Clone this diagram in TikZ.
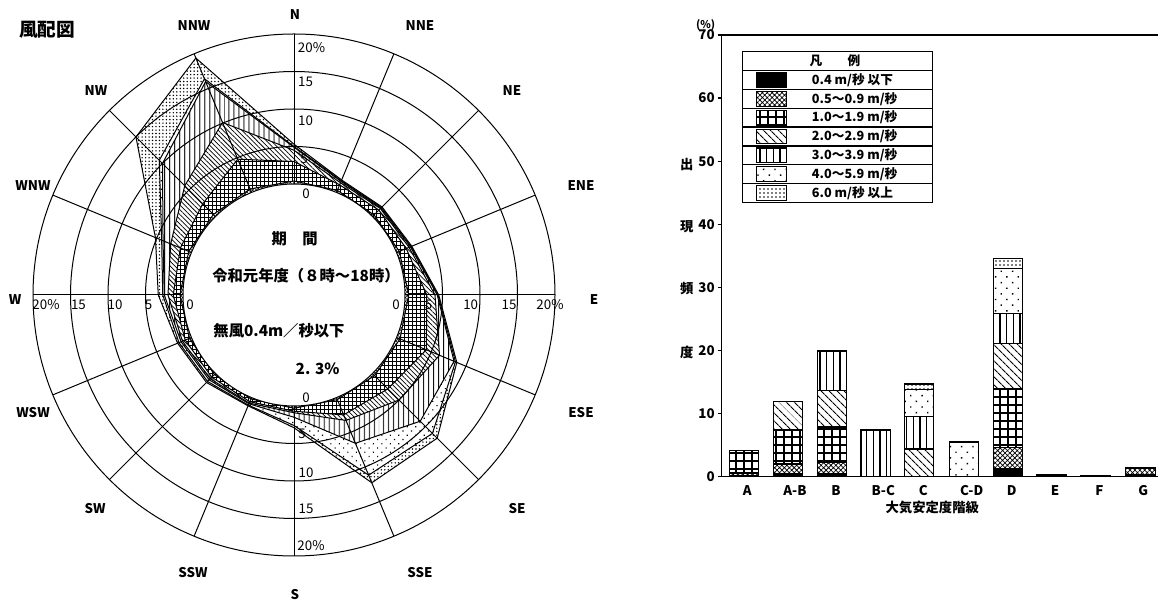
\documentclass[tikz,border=0pt]{standalone}
\usepackage{fontspec}
\setmainfont{Noto Sans CJK JP}
\usetikzlibrary{patterns.meta}

\tikzset{
  every node/.style={inner sep=0pt},
  % speed classes in the rose
  r05/.style={pattern={Hatch[angle=45,distance=2pt,line width=0.4pt]}},
  r10/.style={pattern={Hatch[angle=0,distance=3pt,line width=0.55pt]}},
  r20/.style={pattern={Lines[angle=-45,distance=2.5pt,line width=0.55pt]}},
  r30/.style={pattern={Lines[angle=90,distance=4pt,line width=0.75pt]}},
  r40/.style={pattern={Dots[angle=45,distance=4.5pt,radius=0.6pt]}},
  r60/.style={pattern={Dots[angle=0,distance=2.6pt,radius=0.6pt]}},
  % speed classes in the bars
  b00/.style={fill=black},
  b05/.style={pattern={Hatch[angle=45,distance=2.6pt,line width=0.55pt]}},
  b10/.style={pattern={Hatch[angle=0,distance=6pt,line width=1pt]}},
  b20/.style={pattern={Lines[angle=-45,distance=4pt,line width=0.9pt]}},
  b30/.style={pattern={Lines[angle=90,distance=5pt,line width=1pt]}},
  b40/.style={pattern={Dots[angle=45,distance=6pt,radius=0.75pt]}},
  b60/.style={pattern={Dots[angle=0,distance=3pt,radius=0.65pt]}},
  barline/.style={line width=1pt,preaction={fill=white}},
  dirlbl/.style={font=\fontsize{10}{11}\selectfont\bfseries},
  ringlbl/.style={font=\fontsize{10}{11}\selectfont},
  midtxt/.style={font=\fontsize{11.5}{12}\selectfont\bfseries},
  axlbl/.style={font=\fontsize{10}{11}\selectfont\bfseries},
  keytxt/.style={font=\fontsize{9.5}{10}\selectfont\bfseries}
}

\begin{document}
\begin{tikzpicture}[x=0.75pt,y=-0.75pt]
\useasboundingbox (0,0) rectangle (1158,605);

% wind rose, N NNE NE ... NNW
\begin{scope}[shift={(294,295)},line width=0.75pt]
\foreach \pat/\vN/\vals in {
  r60/5.3/{1.8,1.8,2.2,4.5,8.7,12.2,12.3,2.9,1.2,1.7,2.0,3.3,5.2,15.0,19.4},
  r40/5.0/{1.7,1.7,2.1,4.4,8.5,11.3,11.2,2.6,1.1,1.5,1.8,2.7,4.3,10.6,16.4},
  r30/4.9/{1.6,1.6,2.0,4.3,8.3,9.0,6.6,1.5,0.9,1.2,1.5,2.5,4.1,10.0,16.0},
  r20/4.5/{1.4,1.5,1.8,4.0,6.2,5.0,3.3,0.9,0.8,1.0,1.3,2.0,3.0,5.8,10.1},
  r10/3.0/{1.1,1.2,1.4,2.9,4.3,2.9,2.5,0.7,0.6,0.7,0.9,1.3,1.6,2.4,4.8},
  r05/0.4/{0.3,0.3,0.4,0.5,0.5,0.4,0.3,0.3,0.2,0.2,0.3,0.4,0.4,0.4,0.5}}
  \draw[preaction={fill=white},\pat] (-90:{111+7.5*\vN})
    \foreach \v [count=\i] in \vals {-- ({22.5*\i-90}:{111+7.5*\v})} -- cycle;
\draw[fill=white] (0,0) circle (111);
\foreach \r in {148.5,186,223.5,261}
  \draw (0,0) circle (\r);
\foreach \a in {0,22.5,...,337.5}
  \draw (\a:111) -- (\a:261);
\end{scope}

\node[font=\fontsize{14}{15}\selectfont\bfseries] (title) at (47,30) {風配図};
\foreach \nm/\px/\py in {N/295/15, NNE/420/26, NE/512/91, ENE/581/186,
    E/594/300, ESE/581/413, SE/517/509, SSE/420/573, S/295/595,
    SSW/193/573, SW/95/509, WSW/33/413, W/15/300, WNW/33/186,
    NW/96/91, NNW/194/26}
  \node[dirlbl] (dir\nm) at (\px,\py) {\nm};

% ring values on the four axes
\foreach \t/\px/\py [count=\k] in {20\%/311.5/48, 15/305.5/82, 10/305.5/120.5,
    5/304/159, 0/306/194, 0/306/398, 5/302/434, 10/306/473, 15/306/509,
    20\%/311/546, 0/396/305, 5/428.6/305, 10/470.7/305, 15/509/305,
    20\%/550/305, 20\%/46/305, 15/78.5/305, 10/115/305, 5/148.5/305, 0/190/305}
  \node[ringlbl] (ring\k) at (\px,\py) {\t};

\node[midtxt] (period) at (294.7,239) {期　間};
\node[midtxt] (years) at (306,275.5) {令和元年度（８時～18時）};
\node[midtxt] (calm) at (279,331) {無風0.4m／秒以下};
\node[midtxt] (calmval) at (317.6,368.5) {2. 3\%};

% bar chart
\draw[line width=1pt] (1158,35) -- (721.7,35) -- (721.7,476.7) -- (1158,476.7);
\foreach \p in {0,10,...,70} {
  \draw[line width=1pt] (717.5,{476.7-6.31*\p}) -- (721.7,{476.7-6.31*\p});
  \node[axlbl,anchor=east] (tick\p) at (715,{476.7-6.31*\p}) {\p};
}
\node[font=\fontsize{8}{9}\selectfont\bfseries] (unit) at (705.7,25) {(\%)};
\foreach \ch/\py [count=\k] in {出/164.7, 現/227, 頻/289, 度/352}
  \node[axlbl] (ytitle\k) at (686.7,\py) {\ch};

\foreach \bx/\segs in {
  729.3/{b00/0/0.1,b05/0.1/0.6,b10/0.6/4.1},
  773.3/{b00/0/0.5,b05/0.5/2.0,b10/2.0/7.4,b20/7.4/11.9},
  817.3/{b00/0/0.5,b05/0.5/2.2,b10/2.2/7.9,b20/7.9/13.7,b30/13.7/19.9},
  861.0/{b30/0/7.4},
  904.3/{b20/0/4.4,b30/4.4/9.5,b40/9.5/13.8,b60/13.8/14.7},
  949.3/{b40/0/5.5},
  993.3/{b00/0/1.3,b05/1.3/4.6,b10/4.6/14.0,b20/14.0/21.1,b30/21.1/25.9,b40/25.9/33.0,b60/33.0/34.6},
  1036.7/{b00/0/0.4},
  1081.0/{b00/0/0.2},
  1125.7/{b00/0/0.35,b05/0.35/1.4}}
  \foreach \pat/\lo/\hi in \segs
    \draw[barline,\pat] (\bx,{476.7-6.31*\lo}) rectangle ({\bx+29.5},{476.7-6.31*\hi});

\foreach \cx/\cl [count=\k] in {747.3/A, 795/A-B, 836/B, 883.3/B-C, 923.3/C,
    971.7/C-D, 1011.7/D, 1055/E, 1099.3/F, 1143.3/G}
  \node[axlbl] (cat\k) at (\cx,490.7) {\cl};
\node[axlbl] (xtitle) at (932.3,507.3) {大気安定度階級};

% legend
\draw[line width=1pt] (742.7,51.7) rectangle (932.7,202.3);
\draw[line width=1pt] (742.7,70.7) -- (932.7,70.7);
\node[keytxt] (keyhead) at (835,61) {凡　　例};
\foreach \pat/\txt [count=\k] in {b00/{0.4 m/秒 以下}, b05/{0.5～0.9 m/秒},
    b10/{1.0～1.9 m/秒}, b20/{2.0～2.9 m/秒}, b30/{3.0～3.9 m/秒},
    b40/{4.0～5.9 m/秒}, b60/{6.0 m/秒 以上}} {
  \draw[line width=1pt] (742.7,{70.7+18.8*\k}) -- (932.7,{70.7+18.8*\k});
  \draw[barline,\pat] (756.7,{70.7+18.8*\k-16.7}) rectangle (786.7,{70.7+18.8*\k-2.1});
  \node[keytxt,anchor=west] (key\k) at (811.7,{70.7+18.8*\k-9.4}) {\txt};
}
\end{tikzpicture}
\end{document}
